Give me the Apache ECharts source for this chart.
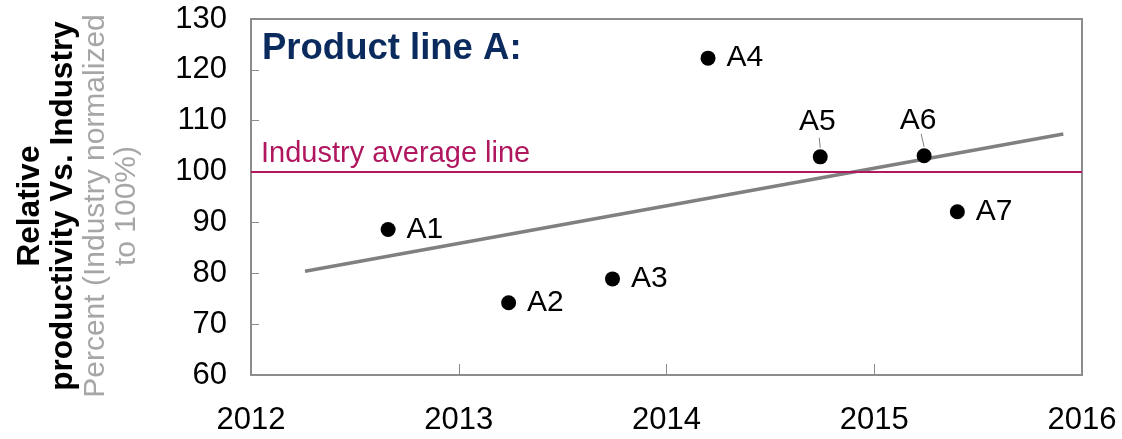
<!DOCTYPE html>
<html>
<head>
<meta charset="utf-8">
<script src="https://cdn.jsdelivr.net/npm/echarts@6/dist/echarts.min.js"></script>
<style>
  html, body { margin: 0; padding: 0; background: #fff; }
  #chart { width: 1122px; height: 439px; }
</style>
</head>
<body>
<div id="chart"></div>
<script>
// Product line A: relative productivity of each product vs. the industry
const pointNames  = ['A1', 'A2', 'A3', 'A4', 'A5', 'A6', 'A7'];
const pointYears  = [2012.66, 2013.24, 2013.74, 2014.20, 2014.74, 2015.24, 2015.40];
const pointValues = [88.6, 74.2, 78.9, 122.3, 102.9, 103.1, 92.1];
const labelSides  = ['right', 'right', 'right', 'right', 'top', 'top', 'right'];

// Fitted trend line (start and end)
const trendYears  = [2012.26, 2015.91];
const trendValues = [80.4, 107.4];

const industryAverage = 100;

const xTicks = { min: 2012, max: 2016, interval: 1 };
const yTicks = { min: 60, max: 130, interval: 10 };

const FONT = '"Liberation Sans", Arial, sans-serif';
const AXIS_GREY = '#8c8c8c';
const MAGENTA = '#b0175f';

const scatterData = pointNames.map((name, i) => {
  const item = { name: name, value: [pointYears[i], pointValues[i]] };
  if (labelSides[i] === 'top') {
    item.label = { position: 'top', distance: 13, offset: [name === 'A6' ? -6 : -3, 0] };
  }
  return item;
});

// Short leader strokes between a marker and a label placed above it
const leaderData = pointNames
  .map((name, i) => ({ name: name, value: [pointYears[i], pointValues[i]] }))
  .filter((d, i) => labelSides[i] === 'top');

function renderLeader(params, api) {
  const c = api.coord([api.value(0), api.value(1)]);
  const lean = params.dataIndex === 1 ? -3 : -1;
  const reach = params.dataIndex === 1 ? 22 : 19;
  return {
    type: 'line',
    shape: { x1: c[0], y1: c[1] - 9, x2: c[0] + lean, y2: c[1] - reach },
    style: { stroke: '#808080', lineWidth: 1 }
  };
}

const chart = echarts.init(document.getElementById('chart'), null, { renderer: 'canvas' });

chart.setOption({
  animation: false,
  backgroundColor: '#fff',
  grid: {
    left: 251, right: 40, top: 19, bottom: 64,
    show: true, borderColor: AXIS_GREY, borderWidth: 2
  },
  xAxis: {
    type: 'value',
    min: xTicks.min, max: xTicks.max, interval: xTicks.interval,
    axisLine: { show: true, lineStyle: { color: AXIS_GREY, width: 2 } },
    axisTick: { show: true, inside: true, length: 11, lineStyle: { color: AXIS_GREY, width: 1 } },
    splitLine: { show: false },
    axisLabel: { fontFamily: FONT, fontSize: 31, color: '#000', margin: 30, formatter: v => String(v) }
  },
  yAxis: {
    type: 'value',
    min: yTicks.min, max: yTicks.max, interval: yTicks.interval,
    axisLine: { show: true, lineStyle: { color: AXIS_GREY, width: 2 } },
    axisTick: { show: true, inside: true, length: 8, lineStyle: { color: AXIS_GREY, width: 1 } },
    splitLine: { show: false },
    axisLabel: { fontFamily: FONT, fontSize: 31, color: '#000', margin: 24 }
  },
  graphic: [
    {
      type: 'text',
      left: 262, top: 30,
      style: {
        text: 'Product line A:',
        font: 'bold 36.5px ' + FONT,
        fill: '#0b2b5e'
      }
    },
    {
      type: 'text',
      x: 78, y: 206,
      rotation: Math.PI / 2,
      style: {
        text: '{b|Relative}\n{b|productivity Vs. Industry}\n{g|Percent (Industry normalized}\n{g|to 100%)}',
        align: 'center',
        verticalAlign: 'middle',
        rich: {
          b: { font: 'bold 31.5px ' + FONT, fill: '#000', lineHeight: 33, align: 'center' },
          g: { font: '30px ' + FONT, fill: '#a6a6a6', lineHeight: 31, align: 'center' }
        }
      }
    }
  ],
  series: [
    {
      type: 'line',
      name: 'Industry average',
      data: [],
      silent: true,
      markLine: {
        silent: true,
        symbol: ['none', 'none'],
        lineStyle: { color: MAGENTA, width: 2, type: 'solid' },
        label: {
          show: true,
          position: 'insideStartTop',
          formatter: 'Industry average line',
          fontFamily: FONT, fontSize: 29, color: MAGENTA,
          distance: [10, 3]
        },
        data: [{ yAxis: industryAverage }]
      }
    },
    {
      type: 'line',
      name: 'Trend',
      data: trendYears.map((x, i) => [x, trendValues[i]]),
      showSymbol: false,
      symbol: 'none',
      lineStyle: { color: '#808080', width: 3.5 },
      z: 3
    },
    {
      type: 'custom',
      name: 'Leaders',
      data: leaderData,
      renderItem: renderLeader,
      silent: true,
      z: 3
    },
    {
      type: 'scatter',
      name: 'Products',
      data: scatterData,
      symbol: 'circle',
      symbolSize: 15,
      itemStyle: { color: '#000', opacity: 1 },
      label: {
        show: true,
        position: 'right',
        distance: 11,
        formatter: p => p.name,
        fontFamily: FONT, fontSize: 30, color: '#000'
      },
      z: 4
    }
  ]
});
</script>
</body>
</html>
